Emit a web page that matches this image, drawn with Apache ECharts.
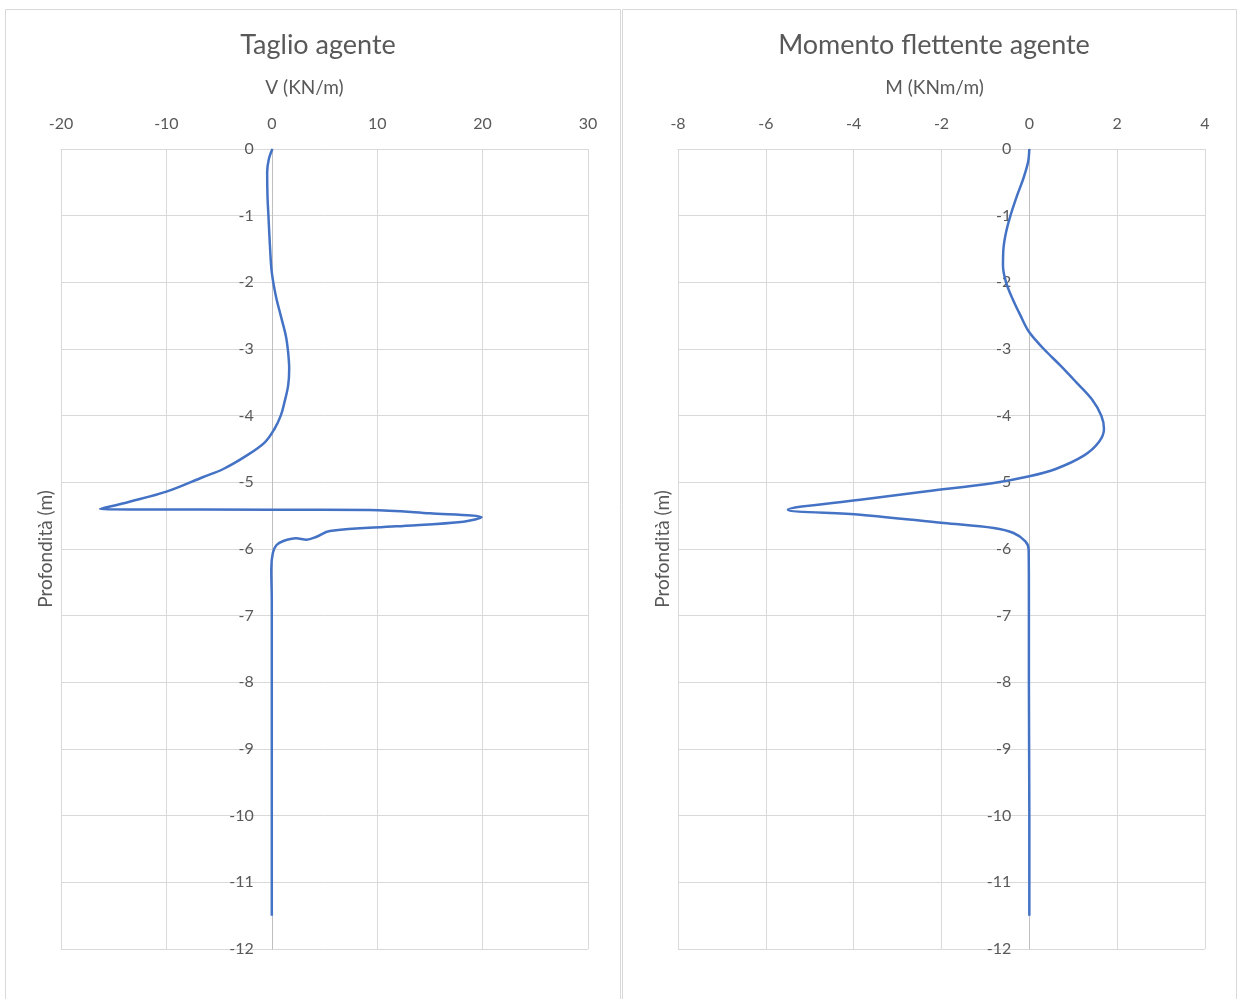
<!DOCTYPE html>
<html>
<head>
<meta charset="utf-8">
<script src="https://cdn.jsdelivr.net/npm/echarts@6/dist/echarts.min.js"></script>
<style>
  html, body { margin: 0; padding: 0; background: #fff; }
  #chart { width: 1237px; height: 999px; }
</style>
</head>
<body>
<div id="chart"></div>
<script>
// Taglio agente: profondità (m) e V (KN/m)
const taglioDepth = [0, -0.15, -0.35, -0.7, -1, -1.5, -1.85, -2.2, -2.5, -2.8, -3.05, -3.3, -3.55, -3.8, -4.0, -4.2, -4.4, -4.6, -4.8,
  -4.92, -5.14, -5.29, -5.40, -5.41, -5.415, -5.465, -5.525, -5.59, -5.66, -5.73, -5.82, -5.86, -5.84, -5.88, -5.94, -6.06,
  -6.3, -6.8, -8, -10, -11.5];
const taglioV = [0.06, -0.28, -0.44, -0.41, -0.32, -0.16, 0, 0.38, 0.85, 1.33, 1.55, 1.65, 1.55, 1.2, 0.85, 0.25, -0.66, -2.4, -4.6,
  -6.5, -10, -13.5, -16.3, 0, 9.3, 15, 19.9, 18.2, 11.8, 5.5, 4.2, 3.3, 2.3, 1.1, 0.45, 0.1,
  -0.05, 0, 0, 0, 0];

// Momento flettente agente: profondità (m) e M (KNm/m)
const momentoDepth = [0, -0.2, -0.45, -0.7, -1, -1.25, -1.5, -1.75, -2, -2.25, -2.5, -2.75, -3, -3.25, -3.5, -3.75, -4, -4.2,
  -4.4, -4.6, -4.8, -4.91, -5.01, -5.135, -5.26, -5.41, -5.485, -5.61, -5.685, -5.76, -5.885, -6.01, -6.76, -8, -10, -11.5];
const momentoM = [0, -0.03, -0.14, -0.28, -0.43, -0.53, -0.59, -0.6, -0.53, -0.38, -0.2, 0, 0.33, 0.71, 1.07, 1.42, 1.64, 1.7,
  1.58, 1.24, 0.6, 0, -0.81, -2.33, -3.85, -5.5, -3.85, -1.95, -0.81, -0.36, -0.09, -0.015, -0.01, -0.01, 0, 0];

const xTicksV = { min: -20, max: 30, interval: 10 };
const xTicksM = { min: -8, max: 4, interval: 2 };
const yTicks = { min: -12, max: 0, interval: 1 };

const fontFam = 'Lato, "Open Sans", sans-serif';
const textGrey = '#595959';
const gridGrey = '#d9d9d9';
const plotW = 527;

function zip(xs, ys) {
  return xs.map((x, i) => [x, ys[i]]);
}

function xAxisFor(idx, ticks, name, shift) {
  return {
    type: 'value',
    gridIndex: idx,
    position: 'top',
    min: ticks.min,
    max: ticks.max,
    interval: ticks.interval,
    name: name,
    nameLocation: 'middle',
    nameGap: 52,
    nameTextStyle: { color: textGrey, fontSize: 19, fontFamily: fontFam, padding: shift },
    axisLine: { show: true, onZero: false, lineStyle: { color: gridGrey } },
    axisTick: { show: false },
    axisLabel: { color: textGrey, fontSize: 16, fontFamily: fontFam, margin: 17 },
    splitLine: { show: true, lineStyle: { color: gridGrey, width: 1 } }
  };
}

// asse verticale spostato sullo zero dell'asse orizzontale
function yAxisFor(idx, ticks) {
  const zeroOffset = (0 - ticks.min) / (ticks.max - ticks.min) * plotW;
  return {
    type: 'value',
    gridIndex: idx,
    position: 'left',
    offset: -zeroOffset,
    min: yTicks.min,
    max: yTicks.max,
    interval: yTicks.interval,
    axisLine: { show: true, onZero: false, lineStyle: { color: '#bfbfbf' } },
    axisTick: { show: false },
    axisLabel: { color: textGrey, fontSize: 16, fontFamily: fontFam, margin: 18 },
    splitLine: { show: true, lineStyle: { color: gridGrey, width: 1 } }
  };
}

// asse solo per il nome "Profondità (m)" a sinistra
function yNameAxis(idx) {
  return {
    type: 'value',
    gridIndex: idx,
    position: 'left',
    min: yTicks.min,
    max: yTicks.max,
    name: 'Profondità (m)',
    nameLocation: 'middle',
    nameGap: 6,
    nameRotate: 90,
    nameTextStyle: { color: textGrey, fontSize: 19, fontFamily: fontFam },
    axisLine: { show: false, onZero: false },
    axisTick: { show: false },
    axisLabel: { show: false },
    splitLine: { show: false }
  };
}

const lineStyle = { color: '#4472c4', width: 2.5 };

const chart = echarts.init(document.getElementById('chart'), null, { renderer: 'canvas' });

const option = {
  animation: false,
  backgroundColor: '#fff',
  title: [
    { text: 'Taglio agente', left: 313, top: 27, textAlign: 'center',
      textStyle: { color: textGrey, fontSize: 27, fontWeight: 'normal', fontFamily: fontFam } },
    { text: 'Momento flettente agente', left: 929, top: 27, textAlign: 'center',
      textStyle: { color: textGrey, fontSize: 27, fontWeight: 'normal', fontFamily: fontFam } }
  ],
  graphic: [
    { type: 'rect', shape: { x: 5.5, y: 9.5, width: 615, height: 1000 },
      style: { fill: null, stroke: gridGrey, lineWidth: 1 }, silent: true },
    { type: 'rect', shape: { x: 622.5, y: 9.5, width: 614, height: 1000 },
      style: { fill: null, stroke: gridGrey, lineWidth: 1 }, silent: true }
  ],
  grid: [
    { left: 61, top: 149, width: plotW, height: 800 },
    { left: 678, top: 149, width: plotW, height: 800 }
  ],
  xAxis: [
    xAxisFor(0, xTicksV, 'V (KN/m)', [0, 40, 0, 0]),
    xAxisFor(1, xTicksM, 'M (KNm/m)', [0, 14, 0, 0])
  ],
  yAxis: [yAxisFor(0, xTicksV), yAxisFor(1, xTicksM), yNameAxis(0), yNameAxis(1)],
  series: [
    { type: 'line', xAxisIndex: 0, yAxisIndex: 0, data: zip(taglioV, taglioDepth),
      showSymbol: false, smooth: 0.35, lineStyle: lineStyle, itemStyle: { color: '#4472c4' } },
    { type: 'line', xAxisIndex: 1, yAxisIndex: 1, data: zip(momentoM, momentoDepth),
      showSymbol: false, smooth: 0.35, lineStyle: lineStyle, itemStyle: { color: '#4472c4' } }
  ]
};

chart.setOption(option);
</script>
</body>
</html>
